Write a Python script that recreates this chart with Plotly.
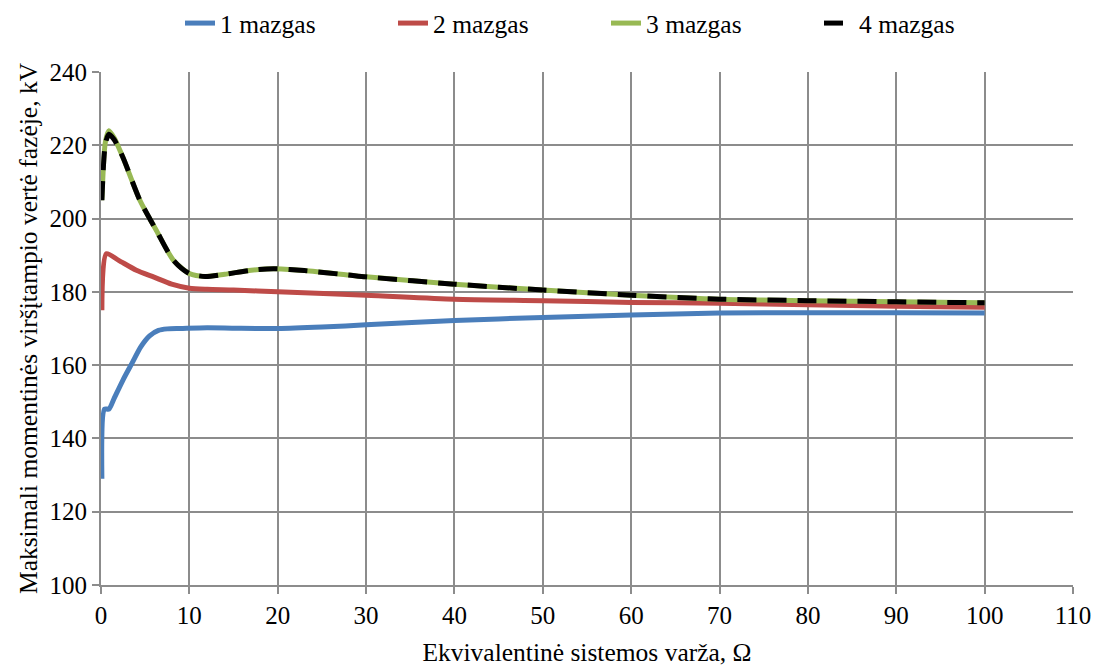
import plotly.graph_objects as go

# Data
x1 = [0.1, 0.4, 0.9, 1.5, 2.5, 3.5, 4.5, 5.5, 6.5, 7.5, 9, 12, 15, 20, 25, 30, 40, 50, 60, 70, 80, 90, 100]
y1 = [129, 148, 148, 151, 156, 160.5, 165, 168, 169.5, 169.9, 170, 170.2, 170.1, 170, 170.4, 171, 172.2, 173, 173.7, 174.2, 174.3, 174.3, 174.2]

x2 = [0.1, 0.6, 2, 4, 6, 8, 10, 12, 15, 20, 30, 40, 50, 60, 70, 80, 90, 100]
y2 = [175, 190.4, 188.6, 185.9, 184.0, 182.1, 181, 180.7, 180.5, 180, 179.1, 178, 177.6, 177.1, 176.9, 176.5, 176.1, 175.8]

x3 = [0.1, 0.5, 0.9, 1.5, 2.5, 4.4, 6.3, 8.2, 10, 11.8, 14, 17, 19.5, 23, 28, 30, 40, 50, 60, 70, 80, 90, 100]
y3 = [205, 221, 224, 222, 216.6, 205, 196.6, 188.6, 185, 184.2, 184.8, 185.9, 186.3, 185.8, 184.6, 184.1, 182.1, 180.5, 179.1, 178, 177.6, 177.3, 177]

x4 = [0.1, 0.5, 0.9, 1.5, 2.5, 4.4, 6.3, 8.2, 10, 11.8, 14, 17, 19.5, 23, 28, 30, 40, 50, 60, 70, 80, 90, 100]
y4 = [205, 220.5, 223, 221.5, 216.6, 205, 196.6, 188.6, 185, 184.2, 184.8, 185.9, 186.3, 185.8, 184.6, 184.1, 182.1, 180.5, 179.1, 178, 177.6, 177.3, 177]

names = ["1 mazgas", "2 mazgas", "3 mazgas", "4 mazgas"]
x_ticks = list(range(0, 111, 10))
y_ticks = list(range(100, 241, 20))

FONT = "Liberation Serif"
tick_font = dict(family=FONT, size=25, color="black")
title_font = dict(family=FONT, size=25.5, color="black")

fig = go.Figure()
fig.add_trace(go.Scatter(x=x1, y=y1, name=names[0], mode="lines",
                         line=dict(color="#4a7ebb", width=5, shape="spline", smoothing=0.7)))
fig.add_trace(go.Scatter(x=x2, y=y2, name=names[1], mode="lines",
                         line=dict(color="#be4b48", width=5, shape="spline", smoothing=0.7)))
fig.add_trace(go.Scatter(x=x3, y=y3, name=names[2], mode="lines",
                         line=dict(color="#98b954", width=5, shape="spline", smoothing=0.7)))
fig.add_trace(go.Scatter(x=x4, y=y4, name=names[3], mode="lines",
                         line=dict(color="#000000", width=5, dash="19px,11px", shape="spline", smoothing=0.7)))

fig.update_layout(
    template="none",
    width=1103, height=668,
    margin=dict(l=101, r=30, t=72, b=83, autoexpand=False),
    paper_bgcolor="white", plot_bgcolor="white",
    font=dict(family=FONT, size=25, color="black"),
    showlegend=True,
    legend=dict(orientation="h", xref="container", yref="container",
                x=180 / 1103, xanchor="left", y=1.0, yanchor="top",
                font=title_font,
                entrywidth=168, entrywidthmode="pixels",
                bgcolor="rgba(0,0,0,0)"),
    xaxis=dict(range=[0, 110], tickvals=x_ticks, ticktext=[str(v) for v in x_ticks],
               tickfont=tick_font,
               showgrid=True, gridcolor="#8c8c8c", gridwidth=2,
               showline=True, linecolor="#8c8c8c", linewidth=2,
               ticks="outside", ticklen=7, tickcolor="#8c8c8c", tickwidth=2,
               zeroline=False, mirror=False,
               title=dict(text="Ekvivalentinė sistemos varža, Ω", font=title_font, standoff=15)),
    yaxis=dict(range=[100, 240], tickvals=y_ticks, ticktext=[str(v) for v in y_ticks],
               tickfont=tick_font,
               showgrid=True, gridcolor="#8c8c8c", gridwidth=2,
               showline=True, linecolor="#8c8c8c", linewidth=2,
               ticks="outside", ticklen=7, tickcolor="#8c8c8c", tickwidth=2,
               zeroline=False,
               title=dict(text="Maksimali momentinės viršįtampio vertė fazėje, kV", font=title_font, standoff=5)),
)

fig.write_html("out.html")
